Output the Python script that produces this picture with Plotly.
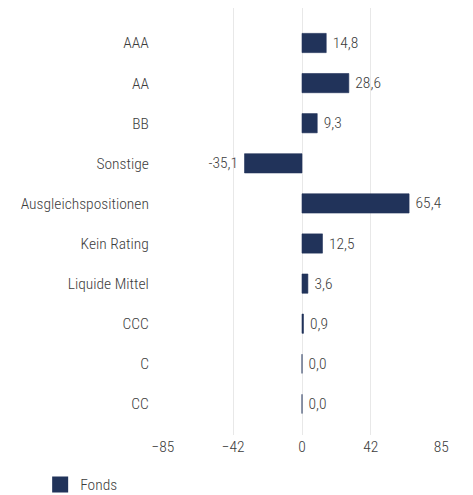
import plotly.graph_objects as go

categories = ["AAA", "AA", "BB", "Sonstige", "Ausgleichspositionen", "Kein Rating",
              "Liquide Mittel", "CCC", "C", "CC"]
values = [14.8, 28.6, 9.3, -35.1, 65.4, 12.5, 3.6, 0.9, 0.0, 0.0]
tick_vals = [-85, -42, 0, 42, 85]
series_name = "Fonds"

labels = [(" " + f"{v:.1f}".replace(".", ",")) if v >= 0 else (f"{v:.1f}".replace(".", ",") + " ")
          for v in values]

FONT = "Roboto Condensed, DejaVu Sans Condensed, sans-serif"
BAR = "#21335a"
TXT = "#3c3c3c"
FS = 15.5
W = 300

fig = go.Figure()
fig.add_trace(go.Bar(
    y=categories, x=values, orientation="h",
    marker=dict(color=BAR, line=dict(color=BAR, width=0.6)),
    text=labels, textposition="outside", cliponaxis=False,
    textfont=dict(size=FS, color=TXT, family=FONT, weight=W),
    showlegend=False, name=series_name, width=0.48,
))
fig.add_trace(go.Scatter(
    x=[None], y=[None], mode="markers", name=series_name,
    marker=dict(symbol="square", size=22, color=BAR),
))
fig.update_layout(
    width=473, height=495,
    margin=dict(l=154, r=39, t=0, b=68, autoexpand=False),
    paper_bgcolor="white", plot_bgcolor="white",
    font=dict(family=FONT, size=FS, color=TXT, weight=W),
    xaxis=dict(range=[-85.5, 85.5], tickvals=tick_vals, showgrid=True,
               gridcolor="#e8e8e8", gridwidth=1, zeroline=False,
               showline=False, ticks="", ticklen=0, automargin=False,
               tickfont=dict(size=FS, color=TXT, weight=W)),
    yaxis=dict(range=[9.775, -0.873], showgrid=False, zeroline=False,
               ticks="outside", ticklen=9, tickcolor="rgba(0,0,0,0)",
               automargin=False,
               tickfont=dict(size=FS, color=TXT, weight=W)),
    legend=dict(orientation="h", xref="container", yref="container",
                x=0.068, xanchor="left", y=0.071, yanchor="top",
                font=dict(size=FS, color=TXT, weight=W), itemsizing="trace"),
)
fig.write_html("out.html")
